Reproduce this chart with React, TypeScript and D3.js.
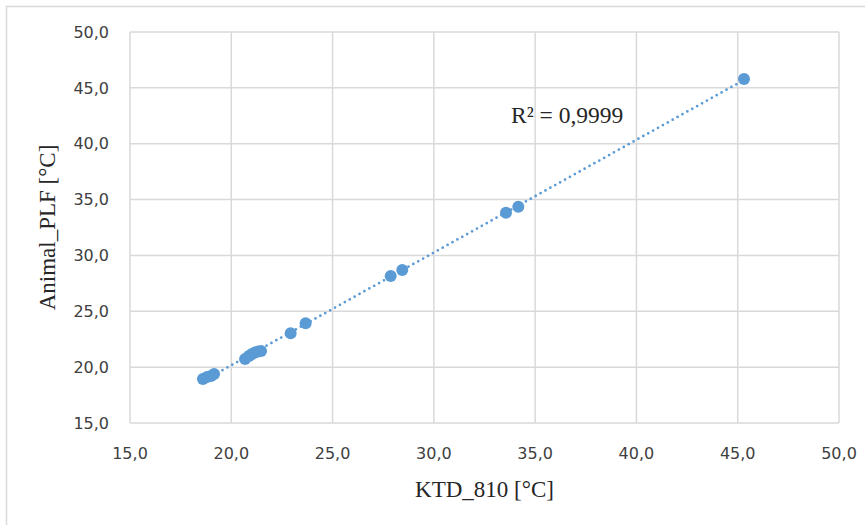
import React, { useEffect, useRef } from "react";
import * as d3 from "d3";

// KTD_810 readings (x) and Animal_PLF readings (y), in °C
const ktd810 = [
  18.6, 18.8, 19.0, 19.15, 20.68, 20.87, 21.02, 21.17, 21.32, 21.47, 22.93, 23.67, 27.87, 28.44, 33.56, 34.17,
  45.31,
];
const animalPlf = [
  18.94, 19.12, 19.21, 19.39, 20.73, 21.0, 21.18, 21.31, 21.4, 21.45, 23.03, 23.93, 28.16, 28.7, 33.83, 34.36,
  45.8,
];
const tickValues = [15, 20, 25, 30, 35, 40, 45, 50];
const r2Label = "R² = 0,9999";
const xTitle = "KTD_810 [°C]";
const yTitle = "Animal_PLF [°C]";

const W = 865;
const H = 525;
const margin = { left: 130, top: 32, right: 26, bottom: 102 };
const blue = "#5b9bd5";
const grid = "#d9d9d9";

const App = () => {
  const ref = useRef<SVGSVGElement | null>(null);

  useEffect(() => {
    const svg = d3.select(ref.current);
    svg.selectAll("*").remove();

    const x = d3.scaleLinear().domain([15, 50]).range([margin.left, W - margin.right]);
    const y = d3.scaleLinear().domain([15, 50]).range([H - margin.bottom, margin.top]);
    const fmt = (v: number) => v.toFixed(1).replace(".", ",");

    // chart border (only left and top are visible in the crop)
    svg.append("path").attr("d", `M6.5,${H} V6.5 H${W}`).attr("fill", "none").attr("stroke", grid).attr("stroke-width", 1.5);

    // gridlines
    svg
      .append("g")
      .selectAll("line.v")
      .data(tickValues)
      .join("line")
      .attr("x1", (d) => x(d))
      .attr("x2", (d) => x(d))
      .attr("y1", y(15))
      .attr("y2", y(50))
      .attr("stroke", grid)
      .attr("stroke-width", 1.5);
    svg
      .append("g")
      .selectAll("line.h")
      .data(tickValues)
      .join("line")
      .attr("x1", x(15))
      .attr("x2", x(50))
      .attr("y1", (d) => y(d))
      .attr("y2", (d) => y(d))
      .attr("stroke", grid)
      .attr("stroke-width", 1.5);

    // tick labels
    const tickFont = "'DejaVu Sans', sans-serif";
    svg
      .append("g")
      .selectAll("text")
      .data(tickValues)
      .join("text")
      .attr("x", 109)
      .attr("y", (d) => y(d))
      .attr("dy", "0.36em")
      .attr("text-anchor", "end")
      .attr("font-family", tickFont)
      .attr("font-size", 16)
      .attr("fill", "#404040")
      .text(fmt);
    svg
      .append("g")
      .selectAll("text")
      .data(tickValues)
      .join("text")
      .attr("x", (d) => x(d))
      .attr("y", 459)
      .attr("text-anchor", "middle")
      .attr("font-family", tickFont)
      .attr("font-size", 16)
      .attr("fill", "#404040")
      .text(fmt);

    // axis titles
    svg
      .append("text")
      .attr("x", (x(15) + x(50)) / 2)
      .attr("y", 497)
      .attr("text-anchor", "middle")
      .attr("font-family", "'Liberation Serif', serif")
      .attr("font-size", 23)
      .attr("fill", "#262626")
      .text(xTitle);
    svg
      .append("text")
      .attr("transform", `translate(55,${(y(15) + y(50)) / 2}) rotate(-90)`)
      .attr("text-anchor", "middle")
      .attr("font-family", "'Liberation Serif', serif")
      .attr("font-size", 23)
      .attr("fill", "#262626")
      .text(yTitle);

    // linear trendline
    const mx = d3.mean(ktd810) as number;
    const my = d3.mean(animalPlf) as number;
    let sxy = 0;
    let sxx = 0;
    ktd810.forEach((v, i) => {
      sxy += (v - mx) * (animalPlf[i] - my);
      sxx += (v - mx) * (v - mx);
    });
    const slope = sxy / sxx;
    const icpt = my - slope * mx;
    const [x0, x1] = d3.extent(ktd810) as [number, number];
    svg
      .append("line")
      .attr("x1", x(x0))
      .attr("y1", y(icpt + slope * x0))
      .attr("x2", x(x1))
      .attr("y2", y(icpt + slope * x1))
      .attr("stroke", blue)
      .attr("stroke-width", 2.75)
      .attr("stroke-linecap", "round")
      .attr("stroke-dasharray", "0 5.6");

    // points
    svg
      .append("g")
      .selectAll("circle")
      .data(ktd810)
      .join("circle")
      .attr("cx", (d) => x(d))
      .attr("cy", (d, i) => y(animalPlf[i]))
      .attr("r", 6)
      .attr("fill", blue);

    // R² label
    svg
      .append("text")
      .attr("x", 511)
      .attr("y", 123)
      .attr("font-family", "'Liberation Serif', serif")
      .attr("font-size", 23.5)
      .attr("fill", "#262626")
      .text(r2Label);
  }, []);

  return (
    <div style={{ position: "absolute", left: 0, top: 0 }}>
      <svg ref={ref} width={W} height={H} style={{ display: "block", background: "#fff" }}></svg>
    </div>
  );
};

export default App;
